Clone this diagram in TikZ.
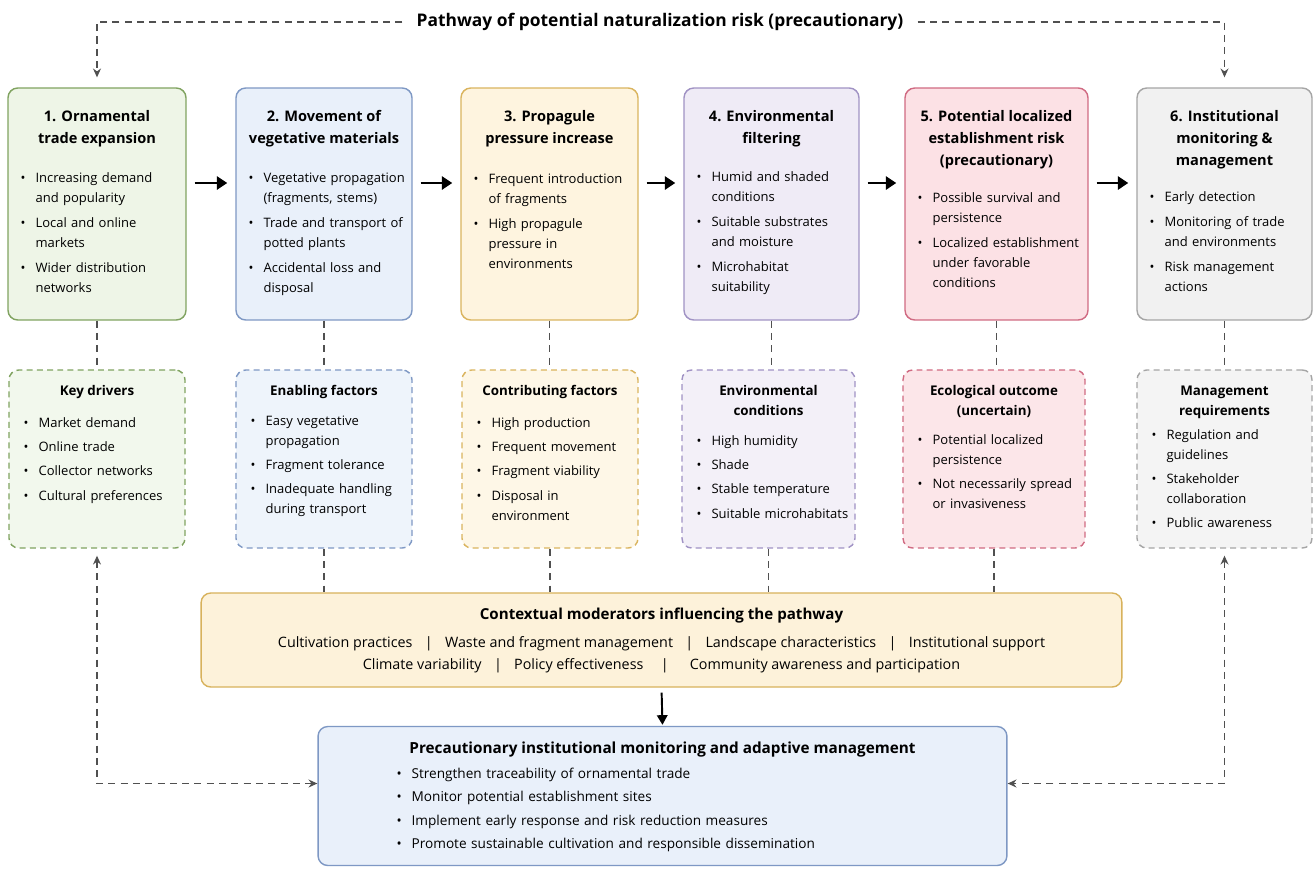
\documentclass[tikz,border=0pt]{standalone}
\usepackage{fontspec}
\setmainfont{Open Sans}
\usetikzlibrary{arrows.meta,calc}
\definecolor{gF}{HTML}{EEF5E7}\definecolor{gD}{HTML}{80A360}
\definecolor{bF}{HTML}{E9F0FA}\definecolor{bD}{HTML}{7E98C4}
\definecolor{yF}{HTML}{FEF4DF}\definecolor{yD}{HTML}{DAB45E}
\definecolor{pF}{HTML}{EFEBF6}\definecolor{pD}{HTML}{A092C4}
\definecolor{rF}{HTML}{FCE1E5}\definecolor{rD}{HTML}{D06A82}
\definecolor{kF}{HTML}{F1F1F1}\definecolor{kD}{HTML}{A5A5A5}
\definecolor{mF}{HTML}{FDF2DA}\definecolor{mD}{HTML}{D8B25C}
\definecolor{lnk}{HTML}{505050}
\newcommand\bgen[2]{\par\addvspace{#1}\hangindent=8.5pt\hangafter=1\noindent\makebox[8.5pt][l]{\textbullet}#2\par}
\newcommand\bl[1]{\bgen{2.8pt}{#1}}
\newcommand\bd[1]{\bgen{2.5pt}{#1}}
\newcommand\bb[1]{\bgen{1.7pt}{#1}}
\tikzset{
 mainbox/.style={draw, rounded corners=5.5pt, line width=0.8pt, minimum height=4.64cm, inner sep=0},
 dbox/.style={draw, rounded corners=5.5pt, line width=0.8pt, dash pattern=on 3.4pt off 2.4pt, minimum height=3.56cm, inner sep=0},
 ttl/.style={anchor=north, align=center, inner sep=0, font=\fontsize{8.3}{12.5}\selectfont\bfseries},
 dttl/.style={anchor=north, align=center, inner sep=0, font=\fontsize{7.6}{11.4}\selectfont\bfseries},
 blist/.style={anchor=north west, inner sep=0, text width=3.3cm, align=left, font=\fontsize{7.4}{11.4}\selectfont},
 flow/.style={line width=1.6pt, -{Triangle[length=6pt,width=7.5pt]}, shorten <=0.16cm, shorten >=0.16cm},
 flowb/.style={line width=1.1pt, -{Triangle[length=5.5pt,width=6pt]}, shorten <=0.1cm, shorten >=0.02cm},
 link/.style={lnk, line width=0.7pt, dash pattern=on 4pt off 3pt},
 darr/.style={link, -{Stealth[length=5pt,width=4.5pt]}},
 dbl/.style={link, {Stealth[length=5pt,width=4.5pt]}-{Stealth[length=5pt,width=4.5pt]}},
}
\begin{document}
\begin{tikzpicture}[x=0.02cm,y=-0.02cm]
\useasboundingbox (0,0) rectangle (1315,869);
\fill[white] (0,0) rectangle (1315,869);
% title
\node[inner sep=8pt, font=\fontsize{9.9}{12}\selectfont\bfseries] (title) at (660,22) {Pathway of potential naturalization risk (precautionary)};
% top boxes
\node[mainbox, fill=gF, draw=gD, minimum width=3.56cm] (b1) at (97,204) {};
\node[mainbox, fill=bF, draw=bD, minimum width=3.52cm] (b2) at (324,204) {};
\node[mainbox, fill=yF, draw=yD, minimum width=3.54cm] (b3) at (549.5,204) {};
\node[mainbox, fill=pF, draw=pD, minimum width=3.50cm] (b4) at (771.5,204) {};
\node[mainbox, fill=rF, draw=rD, minimum width=3.66cm] (b5) at (996.5,204) {};
\node[mainbox, fill=kF, draw=kD, minimum width=3.50cm] (b6) at (1224.5,204) {};
\node[ttl] (t1) at ([yshift=-0.46cm]b1.north) {1. Ornamental\\trade expansion};
\node[ttl] (t2) at ([yshift=-0.46cm]b2.north) {2. Movement of\\vegetative materials};
\node[ttl] (t3) at ([yshift=-0.46cm]b3.north) {3. Propagule\\pressure increase};
\node[ttl] (t4) at ([yshift=-0.46cm]b4.north) {4. Environmental\\filtering};
\node[ttl] (t5) at ([yshift=-0.46cm]b5.north) {5. Potential localized\\establishment risk\\(precautionary)};
\node[ttl] (t6) at ([yshift=-0.46cm]b6.north) {6. Institutional\\monitoring \&\\management};
\node[blist] (l1) at ([xshift=0.26cm,yshift=-1.40cm]b1.north west) {\bl{Increasing demand\newline and popularity}\bl{Local and online\newline markets}\bl{Wider distribution\newline networks}};
\node[blist] (l2) at ([xshift=0.26cm,yshift=-1.40cm]b2.north west) {\bl{Vegetative propagation\newline (fragments, stems)}\bl{Trade and transport of\newline potted plants}\bl{Accidental loss and\newline disposal}};
\node[blist] (l3) at ([xshift=0.26cm,yshift=-1.42cm]b3.north west) {\bl{Frequent introduction\newline of fragments}\bl{High propagule\newline pressure in\newline environments}};
\node[blist] (l4) at ([xshift=0.26cm,yshift=-1.38cm]b4.north west) {\bl{Humid and shaded\newline conditions}\bl{Suitable substrates\newline and moisture}\bl{Microhabitat\newline suitability}};
\node[blist] (l5) at ([xshift=0.26cm,yshift=-1.80cm]b5.north west) {\bl{Possible survival and\newline persistence}\bl{Localized establishment\newline under favorable\newline conditions}};
\node[blist] (l6) at ([xshift=0.26cm,yshift=-1.78cm]b6.north west) {\bl{Early detection}\bl{Monitoring of trade\newline and environments}\bl{Risk management\newline actions}};
% flow arrows
\draw[flow] ([yshift=0.42cm]b1.east) -- ([yshift=0.42cm]b2.west);
\draw[flow] ([yshift=0.42cm]b2.east) -- ([yshift=0.42cm]b3.west);
\draw[flow] ([yshift=0.42cm]b3.east) -- ([yshift=0.42cm]b4.west);
\draw[flow] ([yshift=0.42cm]b4.east) -- ([yshift=0.42cm]b5.west);
\draw[flow] ([yshift=0.42cm]b5.east) -- ([yshift=0.42cm]b6.west);
% dashed boxes
\node[dbox, fill=gF!75!white, draw=gD, minimum width=3.52cm] (d1) at (97,459) {};
\node[dbox, fill=bF!75!white, draw=bD, minimum width=3.52cm] (d2) at (324,459) {};
\node[dbox, fill=yF!75!white, draw=yD, minimum width=3.52cm] (d3) at (550,459) {};
\node[dbox, fill=pF!75!white, draw=pD, minimum width=3.46cm] (d4) at (768.5,459) {};
\node[dbox, fill=rF!85!white, draw=rD, minimum width=3.64cm] (d5) at (994,459) {};
\node[dbox, fill=kF!75!white, draw=kD, minimum width=3.50cm] (d6) at (1224.5,459) {};
\node[dttl] (u1) at ([yshift=-0.32cm]d1.north) {Key drivers};
\node[dttl] (u2) at ([yshift=-0.32cm]d2.north) {Enabling factors};
\node[dttl] (u3) at ([yshift=-0.32cm]d3.north) {Contributing factors};
\node[dttl] (u4) at ([yshift=-0.32cm]d4.north) {Environmental\\conditions};
\node[dttl] (u5) at ([yshift=-0.32cm]d5.north) {Ecological outcome\\(uncertain)};
\node[dttl] (u6) at ([yshift=-0.32cm]d6.north) {Management\\requirements};
\node[blist] (m1) at ([xshift=0.3cm,yshift=-0.66cm]d1.north west) {\bd{Market demand}\bd{Online trade}\bd{Collector networks}\bd{Cultural preferences}};
\node[blist] (m2) at ([xshift=0.3cm,yshift=-0.62cm]d2.north west) {\bd{Easy vegetative\newline propagation}\bd{Fragment tolerance}\bd{Inadequate handling\newline during transport}};
\node[blist] (m3) at ([xshift=0.3cm,yshift=-0.66cm]d3.north west) {\bd{High production}\bd{Frequent movement}\bd{Fragment viability}\bd{Disposal in\newline environment}};
\node[blist] (m4) at ([xshift=0.3cm,yshift=-1.02cm]d4.north west) {\bd{High humidity}\bd{Shade}\bd{Stable temperature}\bd{Suitable microhabitats}};
\node[blist] (m5) at ([xshift=0.3cm,yshift=-1.0cm]d5.north west) {\bd{Potential localized\newline persistence}\bd{Not necessarily spread\newline or invasiveness}};
\node[blist] (m6) at ([xshift=0.3cm,yshift=-0.90cm]d6.north west) {\bd{Regulation and\newline guidelines}\bd{Stakeholder\newline collaboration}\bd{Public awareness}};
% vertical links
\draw[link] (b1.south) -- (b1.south |- d1.north);
\draw[link] (b2.south) -- (b2.south |- d2.north);
\draw[link] (b3.south) -- (b3.south |- d3.north);
\draw[link] (b4.south) -- (b4.south |- d4.north);
\draw[link] (b5.south) -- (b5.south |- d5.north);
\draw[link] (b6.south) -- (b6.south |- d6.north);
% moderator
\node[draw=mD, fill=mF, line width=0.8pt, rounded corners=5.5pt, minimum width=18.42cm, minimum height=1.88cm, inner sep=0] (mod) at (661.5,640) {};
\node[inner sep=0, font=\fontsize{8.6}{12.5}\selectfont\bfseries] (modt) at (661.5,616) {Contextual moderators influencing the pathway};
\node[inner sep=0, align=center, font=\fontsize{8.15}{12.5}\selectfont] (modl) at (661.5,655) {Cultivation practices\hspace{7pt}|\hspace{7pt}Waste and fragment management\hspace{7pt}|\hspace{7pt}Landscape characteristics\hspace{7pt}|\hspace{7pt}Institutional support\\Climate variability\hspace{7pt}|\hspace{7pt}Policy effectiveness\hspace{10pt}|\hspace{12pt}Community awareness and participation};
\draw[link] (d2.south) -- (d2.south |- mod.north);
\draw[link] (d3.south) -- (d3.south |- mod.north);
\draw[link] (d4.south) -- (d4.south |- mod.north);
\draw[link] (d5.south) -- (d5.south |- mod.north);
% bottom box
\node[draw=bD, fill=bF, line width=0.8pt, rounded corners=5.5pt, minimum width=13.78cm, minimum height=2.78cm, inner sep=0] (bot) at (662.5,796) {};
\node[inner sep=0, font=\fontsize{8.7}{12.5}\selectfont\bfseries] (bott) at (662.5,750) {Precautionary institutional monitoring and adaptive management};
\node[blist, text width=10cm, font=\fontsize{7.75}{11.6}\selectfont] (botl) at ([xshift=1.58cm,yshift=-0.58cm]bot.north west) {\bb{Strengthen traceability of ornamental trade}\bb{Monitor potential establishment sites}\bb{Implement early response and risk reduction measures}\bb{Promote sustainable cultivation and responsible dissemination}};
\draw[flowb] (mod.south) -- (bot.north);
% outer dashed connectors
\draw[darr] (title.west) -| ([yshift=0.2cm]b1.north);
\draw[darr] (title.east) -| ([yshift=0.2cm]b6.north);
\draw[dbl] ([yshift=-0.14cm]d1.south) |- ([yshift=0.25cm]bot.west);
\draw[dbl] ([yshift=-0.14cm]d6.south) |- ([yshift=0.25cm]bot.east);
\end{tikzpicture}
\end{document}
